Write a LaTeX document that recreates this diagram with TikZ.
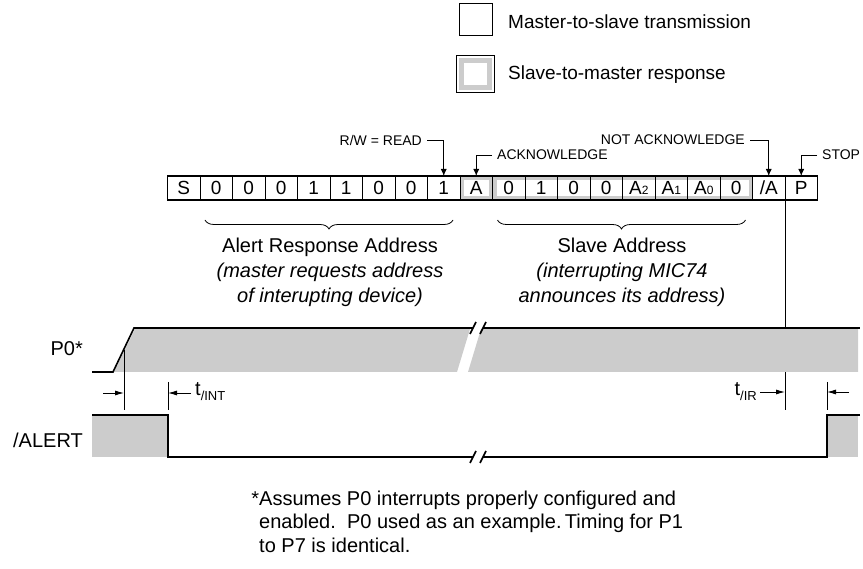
\documentclass[tikz,border=0pt]{standalone}
\usepackage{fontspec}
\setmainfont{Liberation Sans}
\usetikzlibrary{arrows.meta,decorations.pathreplacing}
\pgfdeclarelayer{background}
\pgfsetlayers{background,main}
\definecolor{sgray}{RGB}{204,204,204}
\newcommand\sdig[1]{{\fontsize{12}{12}\selectfont #1}}
\begin{document}
\begin{tikzpicture}[x=1pt,y=-1pt,
  bit/.style={draw,line width=0.9pt,minimum width=32.5pt,minimum height=24pt,inner sep=0pt,outer sep=0pt,font=\fontsize{19}{19}\selectfont},
  lbl/.style={font=\fontsize{14}{14}\selectfont,inner sep=0pt},
  txt/.style={font=\fontsize{20}{25}\selectfont,inner sep=0pt},
  ann/.style={line width=0.9pt,-{Latex[length=7pt,width=6pt]}},
  tarr/.style={line width=0.9pt,-{Latex[length=9pt,width=5pt]}},
  wave/.style={line width=1.6pt},
  thinl/.style={line width=0.8pt},
  shade/.style={fill=sgray,draw=none},
  legbox/.style={draw,line width=1pt,minimum width=33pt,minimum height=32pt,inner sep=0pt}]
\useasboundingbox (0,0) rectangle (863,569);

% legend
\node[legbox] (lm) at (475.5,20) {};
\node[txt,anchor=west,font=\fontsize{19}{19}\selectfont] (lmt) at (508,22) {Master-to-slave transmission};
\node[legbox,draw=sgray,line width=5pt,minimum width=28pt,minimum height=27pt] (ls) at (475.5,74.5) {};
\draw[line width=1pt] (ls.north west)+(-2.5,-2.5) rectangle ([shift={(2.5pt,-2.5pt)}]ls.south east);
\node[txt,anchor=west,font=\fontsize{19}{19}\selectfont] (lst) at (508,75) {Slave-to-master response};

% bit boxes
\foreach \t [count=\i from 0] in {S,0,0,0,1,1,0,0,1,A,0,1,0,0,{A\sdig{2}},{A\sdig{1}},{A\sdig{0}},0,/A,P}
  \node[bit] (b\i) at ({167.5+32.5*(\i+0.5)},188) {\t};
\draw[line width=1.4pt] (b0.north west) rectangle (b19.south east);
\begin{pgfonlayer}{background}
  \fill[sgray] (b9.north west) rectangle (b9.south east);
  \fill[white] ([shift={(4pt,-4pt)}]b9.north west) rectangle ([shift={(-4pt,4pt)}]b9.south east);
  \fill[sgray] (b10.north west) rectangle (b17.south east);
  \fill[white] ([shift={(4pt,-4pt)}]b10.north west) rectangle ([shift={(-4pt,4pt)}]b17.south east);
\end{pgfonlayer}

% annotations
\node[lbl,anchor=east] (rw) at (422,140) {R/W = READ};
\draw[ann] ([xshift=5pt]rw.east) -| (b8.north);
\node[lbl,anchor=west] (ack) at (497,155) {ACKNOWLEDGE};
\draw[ann] ([xshift=-5pt]ack.west) -| (b9.north);
\node[lbl,anchor=east] (nack) at (745,140) {NOT ACKNOWLEDGE};
\draw[ann] ([xshift=5pt]nack.east) -| (b18.north);
\node[lbl,anchor=west] (stop) at (822,155) {STOP};
\draw[ann] ([xshift=-5pt]stop.west) -| (b19.north);

% braces
\draw[thinl,decorate,decoration={brace,amplitude=9pt}]
  ([xshift=-7pt,yshift=-20pt]b8.south east) -- ([xshift=5pt,yshift=-20pt]b1.south west);
\draw[thinl,decorate,decoration={brace,amplitude=9pt}]
  ([xshift=-7pt,yshift=-20pt]b17.south east) -- ([xshift=5pt,yshift=-20pt]b10.south west);
\node[txt,align=center] (ara) at (330,272) {Alert Response Address\\\textit{(master requests address}\\\textit{of interupting device)}};
\node[txt,align=center] (sa) at (622,272) {Slave Address\\\textit{(interrupting MIC74}\\\textit{announces its address)}};

% vertical marker from /A
\coordinate (vA) at (785,410);
\draw[thinl] (b18.south east) -- (vA);

% P0 waveform
\node[txt,anchor=east] (p0) at (83,349) {P0*};
\fill[sgray] (114,372) -- (135,329) -- (470,329) -- (457,372) -- cycle;
\fill[sgray] (481,329) -- (858,329) -- (858,372) -- (468,372) -- cycle;
\draw[wave] (92,372) -- (113,372) -- (134,328) -- (473,328);
\draw[wave] (483,328) -- (860,328);
\draw[wave] (470,334) -- (476,322);
\draw[wave] (480,334) -- (486,322);

% /ALERT waveform
\node[txt,anchor=east] (al) at (83,440) {/ALERT};
\fill[sgray] (92,415) rectangle (168,457);
\fill[sgray] (827,415) rectangle (858,457);
\draw[wave] (92,415) -- (168,415) -- (168,457) -- (473,457);
\draw[wave] (483,457) -- (827,457) -- (827,415) -- (860,415);
\draw[wave] (470,463) -- (476,451);
\draw[wave] (480,463) -- (486,451);

% timing t/INT
\coordinate (i1t) at (124,350); \coordinate (i1b) at (124,410);
\coordinate (i2t) at (168,382); \coordinate (i2b) at (168,410);
\coordinate (i1a) at (103,393); \coordinate (i1e) at (124,393);
\coordinate (i2a) at (191,393); \coordinate (i2e) at (168,393);
\draw[thinl] (i1t) -- (i1b);
\draw[thinl] (i2t) -- (i2b);
\draw[tarr] (i1a) -- (i1e);
\draw[tarr] (i2a) -- (i2e);
\node[anchor=west,inner sep=0pt,font=\fontsize{20}{20}\selectfont] (tint) at (195,392) {t\raisebox{-5pt}{\fontsize{13}{13}\selectfont /INT}};

% timing t/IR
\coordinate (r2t) at (827,382); \coordinate (r2b) at (827,410);
\coordinate (r1a) at (760,392); \coordinate (r1e) at (785,392);
\coordinate (r2a) at (849,392); \coordinate (r2e) at (827,392);
\draw[thinl] (r2t) -- (r2b);
\draw[tarr] (r1a) -- (r1e);
\draw[tarr] (r2a) -- (r2e);
\node[anchor=east,inner sep=0pt,font=\fontsize{20}{20}\selectfont] (tir) at (757,392) {t\raisebox{-5pt}{\fontsize{13}{13}\selectfont /IR}};

% footnote
\node[txt,anchor=base west] (fn1) at (259,505) {\llap{*}Assumes P0 interrupts properly configured and};
\node[txt,anchor=base west] (fn2) at (259,529) {enabled.\ \ P0 used as an example.\,Timing for P1};
\node[txt,anchor=base west] (fn3) at (259,552) {to P7 is identical.};
\end{tikzpicture}
\end{document}
